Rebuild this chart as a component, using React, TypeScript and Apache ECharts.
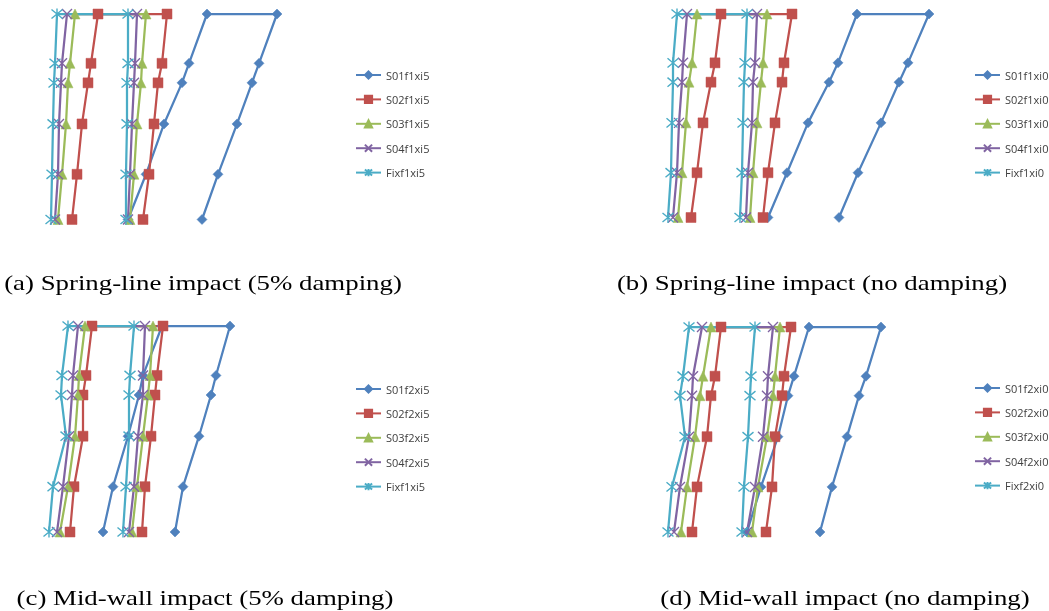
import React, { useEffect, useRef } from "react";
import * as echarts from "echarts";

// wall node heights (bottom -> top), shared by both columns
const heights = [0, 2.2, 4.65, 6.65, 7.6, 10];

// Each series: left column (bottom->top) and right column (bottom->top) lateral displacement
// (a) Spring-line impact, 5% damping
const a_S01_left = [8.8, 10.6, 12.4, 14.2, 14.9, 16.7];
const a_S01_right = [16.2, 17.8, 19.7, 21.2, 21.9, 23.7];
const a_S02_left = [3.2, 3.7, 4.2, 4.8, 5.1, 5.8];
const a_S02_right = [10.3, 10.9, 11.4, 11.8, 12.2, 12.7];
const a_S03_left = [1.8, 2.2, 2.6, 2.8, 3.0, 3.5];
const a_S03_right = [9.0, 9.4, 9.7, 10.1, 10.2, 10.6];
const a_S04_left = [1.5, 1.8, 1.9, 2.1, 2.2, 2.7];
const a_S04_right = [8.8, 9.0, 9.2, 9.4, 9.5, 9.7];
const a_Fix_left = [1.1, 1.2, 1.3, 1.4, 1.5, 1.7];
const a_Fix_right = [8.6, 8.6, 8.7, 8.7, 8.8, 8.8];

// (b) Spring-line impact, no damping
const b_S01_left = [11.8, 13.7, 15.8, 17.9, 18.8, 20.7];
const b_S01_right = [18.9, 20.8, 23.1, 24.9, 25.8, 27.9];
const b_S02_left = [4.1, 4.7, 5.3, 6.1, 6.5, 7.1];
const b_S02_right = [11.3, 11.8, 12.5, 13.2, 13.4, 14.2];
const b_S03_left = [2.8, 3.2, 3.6, 3.9, 4.2, 4.7];
const b_S03_right = [10.0, 10.3, 10.7, 11.1, 11.3, 11.7];
const b_S04_left = [2.3, 2.7, 2.9, 3.2, 3.3, 3.7];
const b_S04_right = [9.6, 9.8, 10.2, 10.3, 10.5, 10.7];
const b_Fix_left = [1.8, 2.1, 2.2, 2.3, 2.3, 2.7];
const b_Fix_right = [9.0, 9.2, 9.3, 9.4, 9.5, 9.7];

// (c) Mid-wall impact, 5% damping
const c_S01_left = [6.3, 7.3, 8.8, 9.9, 10.3, 12.2];
const c_S01_right = [13.5, 14.3, 15.9, 17.1, 17.6, 19.0];
const c_S02_left = [3.0, 3.4, 4.3, 4.3, 4.6, 5.2];
const c_S02_right = [10.2, 10.5, 11.1, 11.5, 11.7, 12.3];
const c_S03_left = [2.0, 2.8, 3.5, 3.8, 3.9, 4.5];
const c_S03_right = [9.2, 9.7, 10.3, 10.8, 11.0, 11.3];
const c_S04_left = [1.7, 2.3, 2.9, 3.2, 3.3, 3.8];
const c_S04_right = [8.9, 9.4, 9.8, 10.3, 10.3, 10.5];
const c_Fix_left = [0.9, 1.3, 2.6, 2.1, 2.2, 2.8];
const c_Fix_right = [8.3, 8.6, 8.9, 8.9, 9.0, 9.4];

// (d) Mid-wall impact, no damping
const d_S01_left = [9.7, 11.1, 12.8, 13.8, 14.4, 15.9];
const d_S01_right = [17.0, 18.2, 19.7, 20.9, 21.6, 23.1];
const d_S02_left = [4.2, 4.7, 5.7, 6.1, 6.5, 7.1];
const d_S02_right = [11.6, 12.2, 12.5, 13.2, 13.4, 14.1];
const d_S03_left = [3.1, 3.7, 4.5, 5.0, 5.3, 6.1];
const d_S03_right = [10.2, 10.8, 11.7, 12.3, 12.5, 13.0];
const d_S04_left = [2.4, 3.0, 3.9, 4.2, 4.3, 5.2];
const d_S04_right = [9.7, 10.5, 11.3, 11.7, 11.8, 12.3];
const d_Fix_left = [1.8, 2.2, 3.5, 3.0, 3.3, 3.9];
const d_Fix_right = [9.2, 9.4, 9.8, 10.0, 10.1, 10.5];

const namesA = ["S01f1xi5", "S02f1xi5", "S03f1xi5", "S04f1xi5", "Fixf1xi5"];
const namesB = ["S01f1xi0", "S02f1xi0", "S03f1xi0", "S04f1xi0", "Fixf1xi0"];
const namesC = ["S01f2xi5", "S02f2xi5", "S03f2xi5", "S04f2xi5", "Fixf1xi5"];
const namesD = ["S01f2xi0", "S02f2xi0", "S03f2xi0", "S04f2xi0", "Fixf2xi0"];

const captions = [
  "(a) Spring-line impact (5% damping)",
  "(b) Spring-line impact (no damping)",
  "(c) Mid-wall impact (5% damping)",
  "(d) Mid-wall impact (no damping)",
];

const COLORS = ["#4F81BD", "#C0504D", "#9BBB59", "#8064A2", "#4BACC6"];
const SYMBOLS = [
  "diamond",
  "rect",
  "triangle",
  "path://M0,0L10,10M10,0L0,10",
  "path://M0,0L10,10M10,0L0,10M5,-1L5,11",
];
const SIZES = [10, 10, 10, 10, 11];

function buildSeries(name: string, left: number[], right: number[], idx: number, grid: number) {
  const data: number[][] = [];
  for (let i = 0; i < heights.length; i++) data.push([left[i], heights[i]]);
  for (let i = heights.length - 1; i >= 0; i--) data.push([right[i], heights[i]]);
  const c = COLORS[idx];
  return {
    type: "line",
    name,
    xAxisIndex: grid,
    yAxisIndex: grid,
    data,
    clip: false,
    symbol: SYMBOLS[idx],
    symbolSize: SIZES[idx],
    showSymbol: true,
    lineStyle: { color: c, width: 2.25 },
    itemStyle: { color: c, borderColor: c, borderWidth: idx >= 3 ? 1.4 : 0.5 },
    emphasis: { disabled: true },
  };
}

const App: React.FC = () => {
  const ref = useRef<HTMLDivElement>(null);
  useEffect(() => {
    if (!ref.current) return;
    const chart = echarts.init(ref.current, undefined, { renderer: "svg" });

    const panels = [
      { names: namesA, sets: [[a_S01_left, a_S01_right], [a_S02_left, a_S02_right], [a_S03_left, a_S03_right], [a_S04_left, a_S04_right], [a_Fix_left, a_Fix_right]] },
      { names: namesB, sets: [[b_S01_left, b_S01_right], [b_S02_left, b_S02_right], [b_S03_left, b_S03_right], [b_S04_left, b_S04_right], [b_Fix_left, b_Fix_right]] },
      { names: namesC, sets: [[c_S01_left, c_S01_right], [c_S02_left, c_S02_right], [c_S03_left, c_S03_right], [c_S04_left, c_S04_right], [c_Fix_left, c_Fix_right]] },
      { names: namesD, sets: [[d_S01_left, d_S01_right], [d_S02_left, d_S02_right], [d_S03_left, d_S03_right], [d_S04_left, d_S04_right], [d_Fix_left, d_Fix_right]] },
    ];

    const series: any[] = [];
    panels.forEach((p, g) => {
      p.sets.forEach((s, i) => series.push(buildSeries(p.names[i], s[0], s[1], i, g)));
    });

    const grids = [
      { left: 40, top: 14, width: 260, height: 205.5 },
      { left: 650, top: 14, width: 300, height: 203.5 },
      { left: 40, top: 326, width: 260, height: 206 },
      { left: 650, top: 327, width: 300, height: 205 },
    ];
    const xMax = [26, 30, 26, 30];

    const legendPos = [
      { left: 355, top: 69 },
      { left: 974, top: 69 },
      { left: 355, top: 383 },
      { left: 974, top: 382 },
    ];
    const legendNames = [namesA, namesB, namesC, namesD];

    const capPos = [
      [203, 282],
      [812, 282],
      [205, 597],
      [845, 597],
    ];

    chart.setOption({
      animation: false,
      grid: grids,
      xAxis: grids.map((_, i) => ({ type: "value", gridIndex: i, min: 0, max: xMax[i], show: false })),
      yAxis: grids.map((_, i) => ({ type: "value", gridIndex: i, min: 0, max: 10, show: false })),
      legend: legendPos.map((lp, i) => ({
        orient: "vertical",
        left: lp.left,
        top: lp.top,
        padding: 0,
        data: legendNames[i],
        itemWidth: 25,
        itemHeight: 9,
        itemGap: 12.4,
        selectedMode: false,
        textStyle: { fontSize: 11, fontFamily: "Open Sans", color: "#404040", lineHeight: 12 },
      })),
      graphic: captions.map((t, i) => ({
        type: "text",
        x: capPos[i][0],
        y: capPos[i][1],
        scaleX: 1.22,
        style: {
          text: t,
          fontSize: 22,
          fontFamily: "Liberation Serif",
          fill: "#000",
          align: "center",
          verticalAlign: "middle",
        },
      })),
      series,
    });

    return () => chart.dispose();
  }, []);

  return <div ref={ref} style={{ position: "fixed", left: 0, top: 0, width: 1049, height: 611 }} />;
};

export default App;
